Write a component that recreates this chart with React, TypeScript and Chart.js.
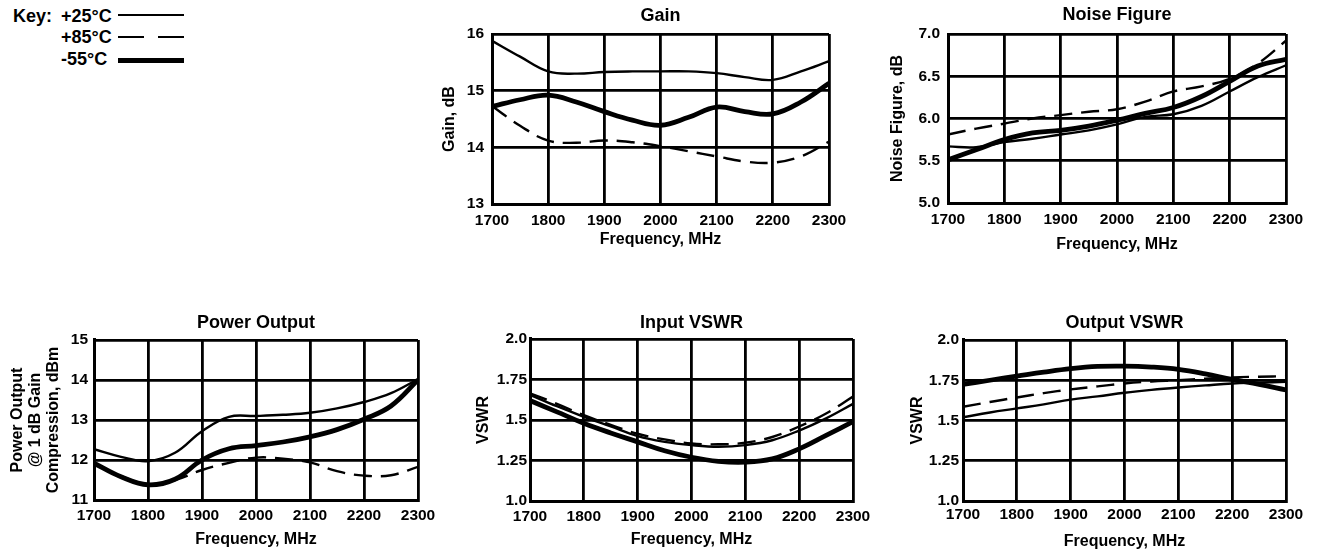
import React, { useEffect, useRef } from 'react';
import { Chart, registerables } from 'chart.js';

Chart.register(...registerables);

const FONT = '"Liberation Sans", Arial, Helvetica, sans-serif';
Chart.defaults.font.family = FONT;
Chart.defaults.color = '#000';

// ---------- data ----------
const freq = [1700, 1750, 1800, 1850, 1900, 1950, 2000, 2050, 2100, 2150, 2200, 2250, 2300];
const xTickLabels = ['1700', '1800', '1900', '2000', '2100', '2200', '2300'];

const gain25 = [15.88, 15.60, 15.34, 15.30, 15.33, 15.34, 15.34, 15.34, 15.31, 15.24, 15.19, 15.34, 15.52];
const gain85 = [14.73, 14.38, 14.12, 14.08, 14.12, 14.09, 14.02, 13.93, 13.84, 13.75, 13.73, 13.84, 14.10];
const gainM55 = [14.72, 14.84, 14.92, 14.80, 14.63, 14.48, 14.39, 14.53, 14.71, 14.63, 14.59, 14.80, 15.13];
const gainTicks = ['13', '14', '15', '16'];

const nf25 = [5.67, 5.66, 5.72, 5.76, 5.81, 5.86, 5.93, 6.02, 6.05, 6.15, 6.32, 6.49, 6.63];
const nf85 = [5.81, 5.88, 5.94, 6.00, 6.04, 6.08, 6.11, 6.20, 6.32, 6.38, 6.47, 6.65, 6.92];
const nfM55 = [5.51, 5.63, 5.75, 5.83, 5.86, 5.91, 5.98, 6.06, 6.13, 6.26, 6.44, 6.62, 6.70];
const nfTicks = ['5.0', '5.5', '6.0', '6.5', '7.0'];

const po25 = [12.27, 12.08, 11.97, 12.18, 12.72, 13.08, 13.10, 13.13, 13.18, 13.29, 13.45, 13.67, 14.02];
const po85 = [11.92, 11.60, 11.40, 11.50, 11.75, 11.93, 12.06, 12.03, 11.94, 11.72, 11.61, 11.62, 11.83];
const poM55 = [11.92, 11.58, 11.38, 11.52, 12.00, 12.28, 12.36, 12.45, 12.58, 12.76, 13.02, 13.35, 14.00];
const poTicks = ['11', '12', '13', '14', '15'];

const iv25 = [1.655, 1.585, 1.52, 1.46, 1.40, 1.365, 1.345, 1.335, 1.345, 1.375, 1.435, 1.51, 1.60];
const iv85 = [1.665, 1.60, 1.53, 1.47, 1.415, 1.38, 1.355, 1.35, 1.36, 1.395, 1.46, 1.54, 1.645];
const ivM55 = [1.62, 1.55, 1.48, 1.42, 1.365, 1.31, 1.27, 1.245, 1.24, 1.26, 1.322, 1.405, 1.49];
const vswrTicks = ['1.0', '1.25', '1.5', '1.75', '2.0'];

const ov25 = [1.52, 1.55, 1.575, 1.60, 1.63, 1.65, 1.672, 1.69, 1.705, 1.718, 1.73, 1.735, 1.74];
const ov85 = [1.585, 1.615, 1.643, 1.67, 1.693, 1.712, 1.73, 1.742, 1.75, 1.76, 1.768, 1.772, 1.775];
const ovM55 = [1.725, 1.75, 1.775, 1.80, 1.822, 1.836, 1.838, 1.832, 1.818, 1.79, 1.755, 1.725, 1.69];

const keyLabels = ['+25°C', '+85°C', '-55°C'];

// ---------- layout specs ----------
type Spec = {
  title: string;
  yTitle: string | string[];
  yMin: number; yMax: number; yStep: number; yTicks: string[];
  s25: number[]; s85: number[]; sM55: number[];
  L: number; T: number; R: number; B: number;
  titleY: number; yTitleX: number; yTitleLH: number;
  yTickPad: number; xTickPad: number; xTitleY: number;
};

const specs: Spec[] = [
  {
    title: 'Gain', yTitle: 'Gain, dB', yMin: 13, yMax: 16, yStep: 1, yTicks: gainTicks,
    s25: gain25, s85: gain85, sM55: gainM55,
    L: 492, T: 34, R: 829, B: 204, titleY: 16.5, yTitleX: 450, yTitleLH: 1.2,
    yTickPad: 8, xTickPad: 7, xTitleY: 240,
  },
  {
    title: 'Noise Figure', yTitle: 'Noise Figure, dB', yMin: 5, yMax: 7, yStep: 0.5, yTicks: nfTicks,
    s25: nf25, s85: nf85, sM55: nfM55,
    L: 948, T: 34, R: 1286, B: 203, titleY: 15, yTitleX: 898, yTitleLH: 1.2,
    yTickPad: 8, xTickPad: 7, xTitleY: 245,
  },
  {
    title: 'Power Output', yTitle: ['Power Output', '@ 1 dB Gain', 'Compression, dBm'],
    yMin: 11, yMax: 15, yStep: 1, yTicks: poTicks,
    s25: po25, s85: po85, sM55: poM55,
    L: 94, T: 340, R: 418, B: 500, titleY: 323, yTitleX: 18, yTitleLH: 1.12,
    yTickPad: 6, xTickPad: 6, xTitleY: 540,
  },
  {
    title: 'Input VSWR', yTitle: 'VSWR', yMin: 1, yMax: 2, yStep: 0.25, yTicks: vswrTicks,
    s25: iv25, s85: iv85, sM55: ivM55,
    L: 530, T: 339, R: 853, B: 501, titleY: 323.5, yTitleX: 484, yTitleLH: 1.2,
    yTickPad: 3, xTickPad: 6, xTitleY: 540,
  },
  {
    title: 'Output VSWR', yTitle: 'VSWR', yMin: 1, yMax: 2, yStep: 0.25, yTicks: vswrTicks,
    s25: ov25, s85: ov85, sM55: ovM55,
    L: 963, T: 340, R: 1286, B: 501, titleY: 323.5, yTitleX: 918, yTitleLH: 1.2,
    yTickPad: 4, xTickPad: 4, xTitleY: 542,
  },
];

const TITLE_SIZE = 18;
const AXIS_SIZE = 16;
const TICK_SIZE = 15.5;
const RIGHT_PAD = 25;

function ChartBox({ spec }: { spec: Spec }) {
  const ref = useRef<HTMLCanvasElement>(null);
  const titleLH = TITLE_SIZE * 1.2;
  const yLH = AXIS_SIZE * spec.yTitleLH;
  const xLH = AXIS_SIZE * 1.2;
  const left = Math.floor(spec.yTitleX - yLH / 2 - 2);
  const top = Math.floor(spec.titleY - titleLH / 2 - 2);
  const bottom = Math.ceil(spec.xTitleY + xLH / 2 + 2);
  const right = spec.R + RIGHT_PAD;
  const width = right - left;
  const height = bottom - top;

  useEffect(() => {
    const tickFont = { family: FONT, size: TICK_SIZE, weight: 'bold' as const };
    const axFont = { family: FONT, size: AXIS_SIZE, weight: 'bold' as const };
    const mk = (vals: number[]) => freq.map((f, i) => ({ x: f, y: vals[i] }));
    const base = {
      borderColor: '#000',
      backgroundColor: '#000',
      pointRadius: 0,
      fill: false,
      tension: 0.4,
      borderCapStyle: 'butt' as const,
    };
    const chart = new Chart(ref.current!, {
      type: 'line',
      data: {
        datasets: [
          { ...base, label: keyLabels[0], data: mk(spec.s25), borderWidth: 2.4 },
          { ...base, label: keyLabels[1], data: mk(spec.s85), borderWidth: 2.4, borderDash: [18, 9] },
          { ...base, label: keyLabels[2], data: mk(spec.sM55), borderWidth: 4.8 },
        ],
      },
      options: {
        responsive: false,
        animation: false,
        events: [],
        layout: { padding: { left: 0, top: 0, bottom: 0, right: RIGHT_PAD } },
        plugins: {
          legend: { display: false },
          tooltip: { enabled: false },
          title: {
            display: true,
            text: spec.title,
            fullSize: false,
            color: '#000',
            font: { family: FONT, size: TITLE_SIZE, weight: 'bold' },
            padding: {
              top: spec.titleY - titleLH / 2 - top,
              bottom: spec.T - spec.titleY - titleLH / 2,
            },
          },
        },
        scales: {
          x: {
            type: 'linear',
            min: 1700,
            max: 2300,
            ticks: {
              stepSize: 100,
              autoSkip: false,
              maxRotation: 0,
              padding: spec.xTickPad,
              color: '#000',
              font: tickFont,
              callback: (_v: any, i: number) => xTickLabels[i],
            },
            grid: { color: '#000', lineWidth: 2.8, drawTicks: false },
            border: { color: '#000', width: 3 },
            title: {
              display: true,
              text: 'Frequency, MHz',
              color: '#000',
              font: axFont,
              padding: { top: 0, bottom: bottom - spec.xTitleY - xLH / 2 },
            },
            afterFit: (s: any) => { s.height = bottom - spec.B; },
          },
          y: {
            type: 'linear',
            min: spec.yMin,
            max: spec.yMax,
            ticks: {
              stepSize: spec.yStep,
              autoSkip: false,
              padding: spec.yTickPad,
              color: '#000',
              font: tickFont,
              callback: (_v: any, i: number) => spec.yTicks[i],
            },
            grid: { color: '#000', lineWidth: 2.8, drawTicks: false },
            border: { color: '#000', width: 3 },
            title: {
              display: true,
              text: spec.yTitle,
              color: '#000',
              font: { ...axFont, lineHeight: spec.yTitleLH },
              padding: { top: spec.yTitleX - yLH / 2 - left, bottom: 0 },
            },
            afterFit: (s: any) => { s.width = spec.L - left; },
          },
        },
      } as any,
    });
    return () => chart.destroy();
  }, []);

  return (
    <canvas
      ref={ref}
      width={width}
      height={height}
      style={{ position: 'absolute', left, top, width, height }}
    />
  );
}

const keyText: React.CSSProperties = {
  position: 'absolute',
  fontFamily: FONT,
  fontWeight: 'bold',
  fontSize: 18,
  lineHeight: '20px',
  color: '#000',
  whiteSpace: 'nowrap',
};

function Key() {
  const rows = [5.7, 27.3, 49.2];
  return (
    <>
      <div style={{ ...keyText, left: 13, top: rows[0] }}>Key:</div>
      {keyLabels.map((k, i) => (
        <div key={k} style={{ ...keyText, left: 61, top: rows[i] }}>{k}</div>
      ))}
      <div style={{ position: 'absolute', left: 118, top: 14, width: 66, height: 2.4, background: '#000' }} />
      <div style={{ position: 'absolute', left: 118, top: 35.5, width: 26, height: 2.4, background: '#000' }} />
      <div style={{ position: 'absolute', left: 158, top: 35.5, width: 26, height: 2.4, background: '#000' }} />
      <div style={{ position: 'absolute', left: 118, top: 57.5, width: 66, height: 5, background: '#000' }} />
    </>
  );
}

export default function App() {
  return (
    <div
      style={{
        position: 'absolute',
        left: 0,
        top: 0,
        width: 1319,
        height: 552,
        overflow: 'hidden',
        background: '#fff',
      }}
    >
      <Key />
      {specs.map((s) => (
        <ChartBox key={s.title} spec={s} />
      ))}
    </div>
  );
}
